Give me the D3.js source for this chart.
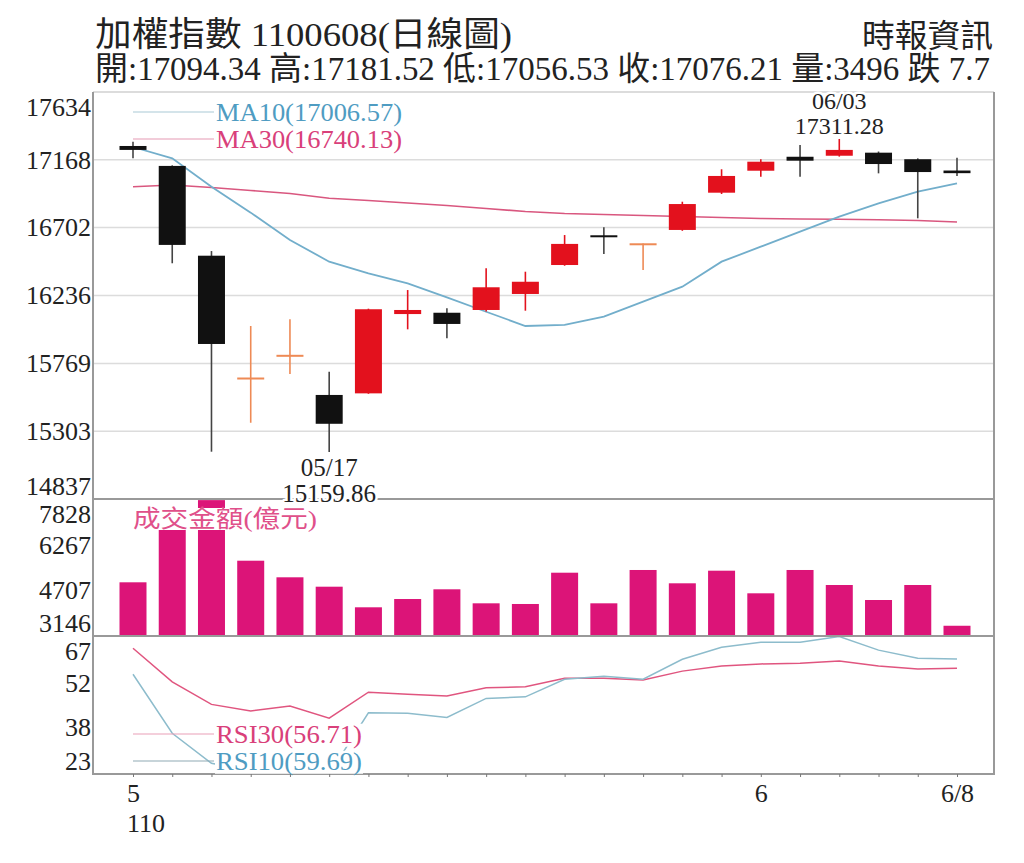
<!DOCTYPE html>
<html>
<head>
<meta charset="utf-8">
<script src="https://cdn.jsdelivr.net/npm/d3@7"></script>
<style>
  body { margin: 0; background: #fff; }
  svg { display: block; }
</style>
</head>
<body>
<div id="chart"></div>
<script>
// trading days 110/05/10 .. 110/06/08
const dates = ["05/10","05/11","05/12","05/13","05/14","05/17","05/18","05/19","05/20","05/21",
  "05/24","05/25","05/26","05/27","05/28","05/31","06/01","06/02","06/03","06/04","06/07","06/08"];
const open  = [17263,17126,16509,15660,15815,15552,15563,16108,16117,16136,16246,16445,16645,16585,16686,16942,17093,17189,17196,17217,17172,17094.34];
const high  = [17292,17130,16541,16026,16072,15712,16145,16273,16148,16423,16399,16651,16704,16592,16880,17103,17172,17270,17311.28,17225,17178,17181.52];
const low   = [17178,16457,15162,15361,15696,15159.86,15560,16003,15941,16125,16131,16440,16521,16411,16680,16933,17052,17052,17190,17075,16766,17056.53];
const close = [17236,16583.13,15902.37,15670.10,15827.09,15353.89,16141,16136,16040,16292,16330,16590,16640,16590,16864,17057,17155,17162,17236,17139,17083.91,17076.21];
const ma10  = [17256,17178,16983,16805,16617,16468,16388,16319,16223,16124,16026,16033,16090,16193,16296,16468,16571,16674,16777,16869,16949,17006.57];
const ma30  = [16983,16995,16978,16957,16937,16904,16888,16871,16854,16833,16813,16799,16792,16785,16778,16772,16765,16761,16759,16756,16751,16740.13];
const volume = [4981,7450,7790,5719,5152,4831,4127,4410,4742,4263,4240,5309,4263,5402,4947,5378,4605,5402,4889,4376,4889,3496];
const rsi10 = [54.8,36.0,26.4,24,27,23,42.5,42.4,41.0,47.1,47.6,53.2,54.2,53.2,59.6,63.4,65.0,65.0,66.8,62.5,59.9,59.69];
const rsi30 = [63.1,52.4,45.2,43.1,44.7,40.8,49.1,48.4,47.9,50.5,50.8,53.5,53.5,53.0,55.8,57.4,58.1,58.3,59.0,57.4,56.5,56.71];

const priceTicks = [14837,15303,15769,16236,16702,17168,17634];
const volTicks = [3146,4707,6267,7828];
const rsiTicks = [23,38,52,67];
const xLabelDates = ["05/10","06/01","06/08"];
const xLabelText = ["5","6","6/8"];
const yearLabel = "110";

const titleText = "加權指數 1100608(日線圖)";
const sourceText = "時報資訊";
const quoteText = "開:17094.34 高:17181.52 低:17056.53 收:17076.21 量:3496 跌 7.7";
const volLabel = "成交金額(億元)";

const W = 1024, H = 863;
const L = 93, R = 994, T = 92, P1 = 499, P2 = 636, B = 774;
const SERIF = "'Liberation Serif', 'Noto Sans CJK TC', serif";
const CJK = "'Liberation Serif', 'Noto Sans CJK TC', sans-serif";
const fmt2 = d3.format(".2f");

const svg = d3.select("#chart").append("svg")
  .attr("width", W).attr("height", H)
  .attr("viewBox", `0 0 ${W} ${H}`);

const x = d3.scalePoint(dates, [133, 957]);
const bw = 27;
const yP = d3.scaleLinear([14837, 17634], [P1, T]);
const yV = d3.scaleLinear([3146, 7828], [P2, P1]).clamp(true);
const yR = d3.scaleLinear([23, 67], [B, P2]);

// header
svg.append("text").attr("x", 95).attr("y", 46)
  .attr("font-family", CJK).attr("font-size", 34).attr("fill", "#222")
  .attr("textLength", 417).attr("lengthAdjust", "spacingAndGlyphs")
  .text(titleText);
svg.append("text").attr("x", 993).attr("y", 47).attr("text-anchor", "end")
  .attr("font-family", CJK).attr("font-size", 32).attr("fill", "#222")
  .attr("textLength", 131).attr("lengthAdjust", "spacingAndGlyphs")
  .text(sourceText);
svg.append("text").attr("x", 95).attr("y", 80)
  .attr("font-family", CJK).attr("font-size", 33).attr("fill", "#222")
  .attr("textLength", 895).attr("lengthAdjust", "spacingAndGlyphs")
  .text(quoteText);

// grid in price panel
svg.append("g").selectAll("line")
  .data(priceTicks.slice(1, -1))
  .join("line")
  .attr("x1", L).attr("x2", R)
  .attr("y1", (d) => yP(d)).attr("y2", (d) => yP(d))
  .attr("stroke", "#dcdcdc").attr("stroke-width", 1.5);

// moving averages
const line = (scale) => d3.line().x((d, i) => x(dates[i])).y((d) => scale(d));
svg.append("path").datum(ma30).attr("d", line(yP))
  .attr("fill", "none").attr("stroke", "#d9577f").attr("stroke-width", 1.6);
svg.append("path").datum(ma10).attr("d", line(yP))
  .attr("fill", "none").attr("stroke", "#72aecb").attr("stroke-width", 1.8);

// candles
const candles = dates.map((d, i) => ({ d, o: open[i], h: high[i], l: low[i], c: close[i] }));
const candleColor = (k) => {
  if (k.c < k.o) return "#111";
  return yP(k.o) - yP(k.c) < 2 ? "#ee8a55" : "#e3111d";
};
const cg = svg.append("g");
cg.selectAll("line")
  .data(candles)
  .join("line")
  .attr("x1", (k) => x(k.d)).attr("x2", (k) => x(k.d))
  .attr("y1", (k) => yP(k.h)).attr("y2", (k) => yP(k.l))
  .attr("stroke", (k) => (k.c < k.o ? "#444" : candleColor(k)))
  .attr("stroke-width", 1.6);
cg.selectAll("rect")
  .data(candles)
  .join("rect")
  .attr("x", (k) => x(k.d) - bw / 2)
  .attr("width", bw)
  .attr("y", (k) => {
    const top = yP(Math.max(k.o, k.c)), bot = yP(Math.min(k.o, k.c));
    return bot - top < 2 ? (top + bot) / 2 - 1 : top;
  })
  .attr("height", (k) => Math.max(2, yP(Math.min(k.o, k.c)) - yP(Math.max(k.o, k.c))))
  .attr("fill", candleColor);

// volume bars
svg.append("g").selectAll("rect")
  .data(volume)
  .join("rect")
  .attr("x", (v, i) => x(dates[i]) - bw / 2)
  .attr("width", bw)
  .attr("y", (v) => yV(v))
  .attr("height", (v) => P2 - yV(v))
  .attr("fill", "#dc1478");

// rsi
svg.append("path").datum(rsi30).attr("d", line(yR))
  .attr("fill", "none").attr("stroke", "#e0557f").attr("stroke-width", 1.5);
svg.append("path").datum(rsi10).attr("d", line(yR))
  .attr("fill", "none").attr("stroke", "#8dbccc").attr("stroke-width", 1.5);

// frame
svg.append("line").attr("x1", L).attr("x2", R).attr("y1", T).attr("y2", T)
  .attr("stroke", "#d0d0d0").attr("stroke-width", 1.5);
[P1, P2].forEach((y) => {
  svg.append("line").attr("x1", L).attr("x2", R).attr("y1", y).attr("y2", y)
    .attr("stroke", "#999").attr("stroke-width", 2);
});
svg.append("path")
  .attr("d", `M${L},${T}V${B}H${R}V${T}`)
  .attr("fill", "none").attr("stroke", "#999").attr("stroke-width", 2);

// high / low notes
const halo = (sel) => sel.attr("stroke", "#fff").attr("stroke-width", 5)
  .attr("paint-order", "stroke").attr("stroke-linejoin", "round");
const lo = d3.minIndex(low), hi = d3.maxIndex(high);
[[dates[lo], 15], [fmt2(low[lo]), 41]].forEach(([t, dy]) => {
  svg.append("text").attr("x", x(dates[lo])).attr("y", yP(low[lo]) + dy)
    .attr("dy", "0.35em").attr("text-anchor", "middle")
    .attr("font-family", SERIF).attr("font-size", 25).attr("fill", "#222")
    .call(halo).text(t);
});
[[dates[hi], -38], [fmt2(high[hi]), -13]].forEach(([t, dy]) => {
  svg.append("text").attr("x", x(dates[hi])).attr("y", yP(high[hi]) + dy)
    .attr("dy", "0.35em").attr("text-anchor", "middle")
    .attr("font-family", SERIF).attr("font-size", 24).attr("fill", "#222")
    .call(halo).text(t);
});

// legends with white boxes
function legend(label, color, lineColor, y, len) {
  svg.append("line").attr("x1", 133).attr("x2", 214).attr("y1", y).attr("y2", y)
    .attr("stroke", lineColor).attr("stroke-width", 1.2);
  const t = svg.append("text").attr("x", 216).attr("y", y)
    .attr("dy", "0.35em").attr("font-family", SERIF).attr("font-size", 25)
    .attr("fill", color).attr("textLength", len).attr("lengthAdjust", "spacingAndGlyphs")
    .text(label);
  const b = t.node().getBBox();
  svg.insert("rect", () => t.node())
    .attr("x", b.x - 1).attr("y", b.y + 3).attr("width", b.width + 2).attr("height", b.height - 5)
    .attr("fill", "#fff");
  return t;
}
legend(`MA10(${fmt2(ma10.at(-1))})`, "#4f9cc2", "#a9c9d6", 112, 186);
legend(`MA30(${fmt2(ma30.at(-1))})`, "#d9407a", "#e59ab4", 139, 186);
legend(`RSI30(${fmt2(rsi30.at(-1))})`, "#d9407a", "#eaa0b8", 734, 146);
legend(`RSI10(${fmt2(rsi10.at(-1))})`, "#4f9cc2", "#8fa9b4", 761, 146);

const vt = svg.append("text").attr("x", 133).attr("y", 527)
  .attr("font-family", CJK).attr("font-size", 24).attr("fill", "#e0508a")
  .attr("textLength", 184).attr("lengthAdjust", "spacingAndGlyphs")
  .text(volLabel);
const vb = vt.node().getBBox();
svg.insert("rect", () => vt.node())
  .attr("x", vb.x - 1).attr("y", vb.y + 2).attr("width", vb.width + 2).attr("height", vb.height - 4)
  .attr("fill", "#fff");

// left axes
function leftAxis(scale, ticks, top, bottom) {
  const g = svg.append("g").attr("transform", `translate(${L - 1},0)`)
    .call(d3.axisLeft(scale).tickValues(ticks).tickSize(0).tickPadding(1).tickFormat(d3.format("d")));
  g.select(".domain").remove();
  g.selectAll("text")
    .attr("font-family", SERIF).attr("font-size", 26).attr("fill", "#222")
    .attr("y", (d) => Math.min(Math.max(scale(d), top + 15), bottom - 13) - scale(d));
}
leftAxis(yP, priceTicks, T, P1);
leftAxis(yV, volTicks, P1, P2);
leftAxis(yR, rsiTicks, P2, B);

// bottom axis
const xa = svg.append("g").attr("transform", `translate(0,${B})`)
  .call(d3.axisBottom(x).tickSize(3).tickPadding(7)
    .tickFormat((d) => {
      const j = xLabelDates.indexOf(d);
      return j < 0 ? "" : xLabelText[j];
    }));
xa.select(".domain").remove();
xa.selectAll("line").attr("stroke", "#777");
xa.selectAll("text").attr("font-family", SERIF).attr("font-size", 26).attr("fill", "#222");
svg.append("text").attr("x", x(dates[0]) - 6).attr("y", 832)
  .attr("font-family", SERIF).attr("font-size", 26).attr("fill", "#222")
  .text(yearLabel);
</script>
</body>
</html>
